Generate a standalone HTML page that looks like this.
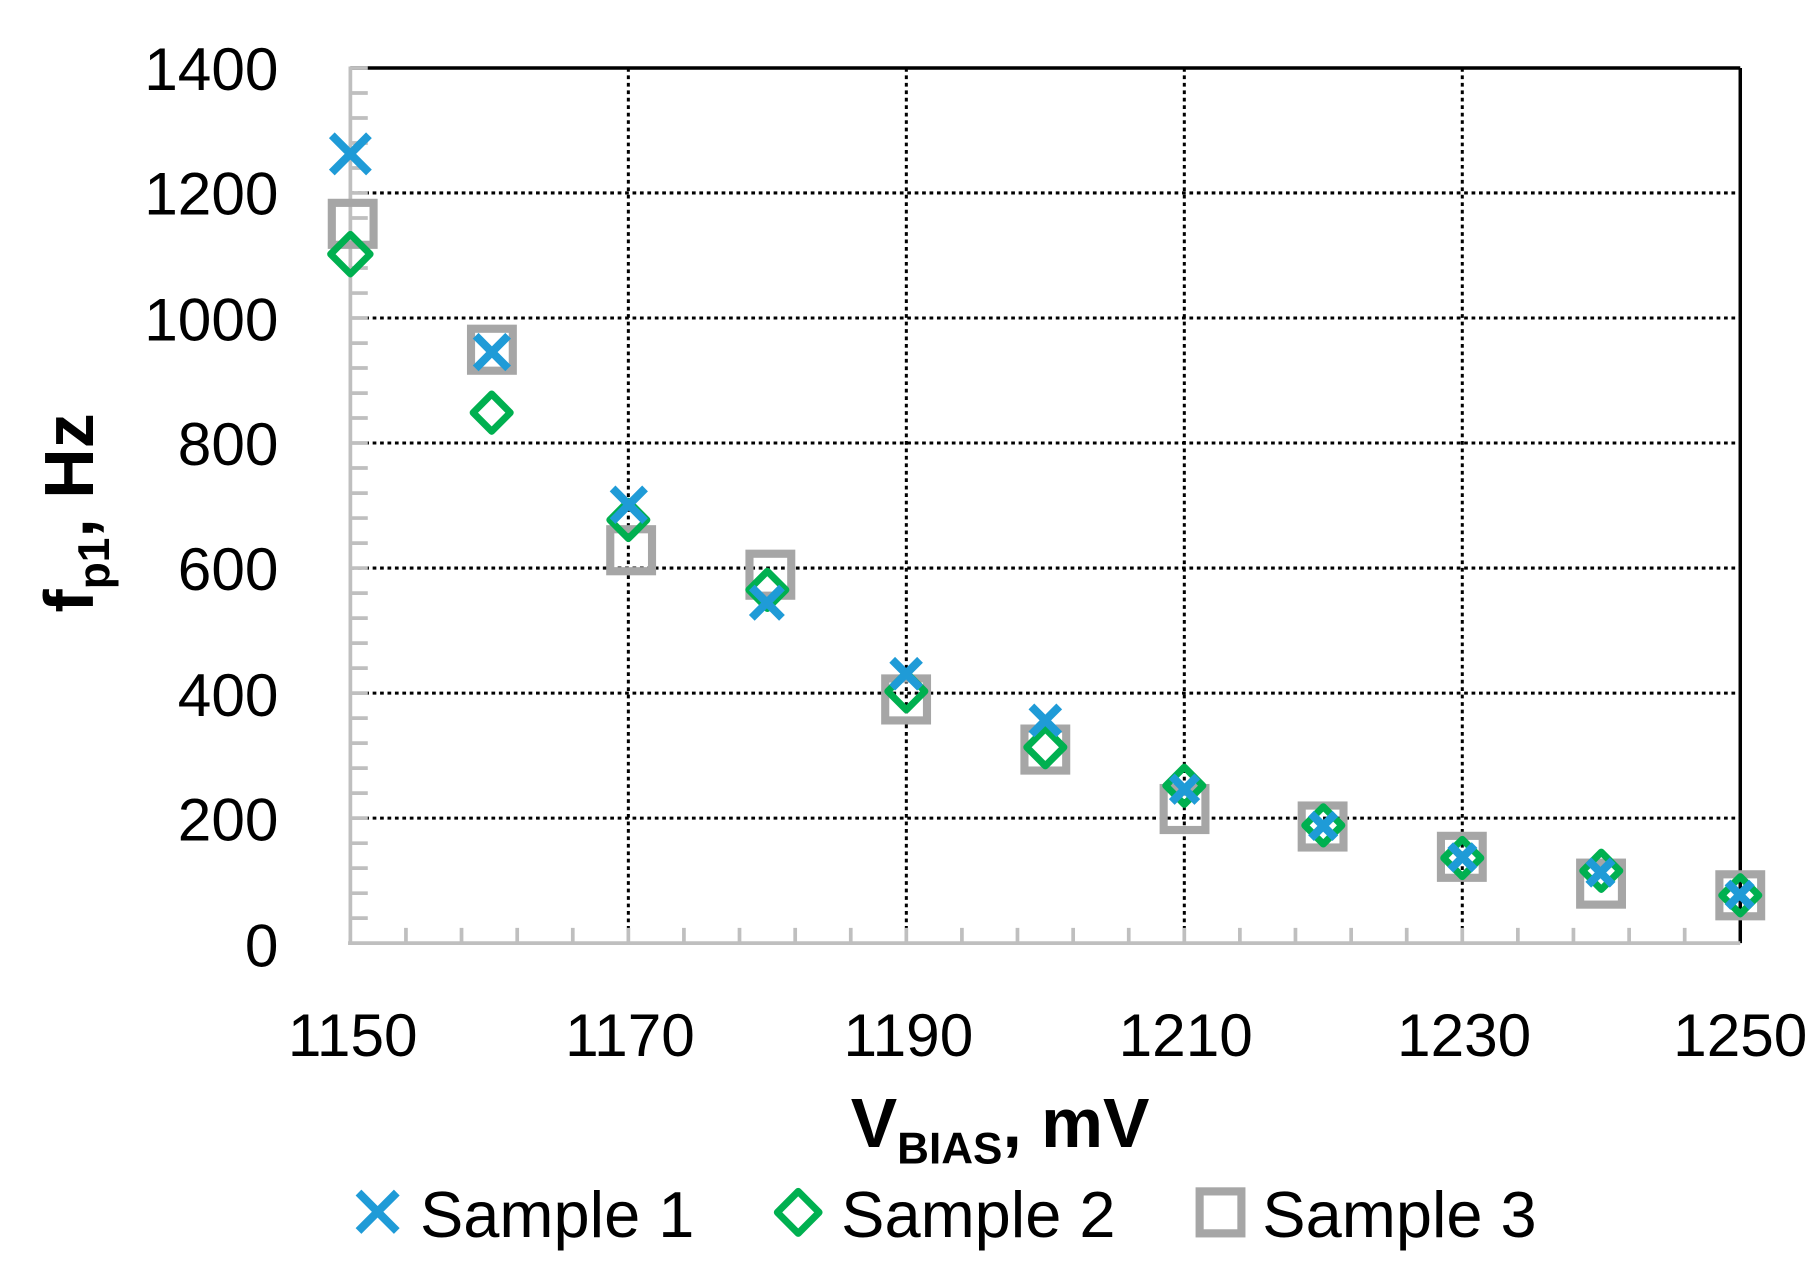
<!DOCTYPE html>
<html><head><style>html,body{margin:0;padding:0;background:#fff}svg{display:block}</style></head>
<body>
<svg width="1818" height="1266" viewBox="0 0 1567 1086" preserveAspectRatio="none" xmlns="http://www.w3.org/2000/svg" font-family="'Liberation Sans', sans-serif">
<rect width="1567" height="1086" fill="#fff"/>
<g stroke="#000" stroke-width="2.6" stroke-dasharray="3.2 3.2">
<line x1="302" y1="165.5" x2="1500" y2="165.5"/>
<line x1="302" y1="272.8" x2="1500" y2="272.8"/>
<line x1="302" y1="380" x2="1500" y2="380"/>
<line x1="302" y1="487.3" x2="1500" y2="487.3"/>
<line x1="302" y1="594.6" x2="1500" y2="594.6"/>
<line x1="302" y1="701.8" x2="1500" y2="701.8"/>
<line x1="541.6" y1="58.3" x2="541.6" y2="809"/>
<line x1="781.2" y1="58.3" x2="781.2" y2="809"/>
<line x1="1020.8" y1="58.3" x2="1020.8" y2="809"/>
<line x1="1260.4" y1="58.3" x2="1260.4" y2="809"/>
</g>
<line x1="302" y1="58.3" x2="1500" y2="58.3" stroke="#000" stroke-width="3"/>
<line x1="1500" y1="58.3" x2="1500" y2="809" stroke="#000" stroke-width="3"/>
<g stroke="#bfbfbf" stroke-width="3.2">
<line x1="302" y1="57" x2="302" y2="810.5"/>
<line x1="300" y1="809" x2="1500" y2="809"/>
</g>
<g stroke="#bfbfbf" stroke-width="3.2">
<path d="M302 58.3h15M302 79.8h15M302 101.2h15M302 122.7h15M302 144.1h15M302 165.5h15M302 187h15M302 208.5h15M302 229.9h15M302 251.4h15M302 272.8h15M302 294.3h15M302 315.7h15M302 337.2h15M302 358.6h15M302 380h15M302 401.5h15M302 423h15M302 444.4h15M302 465.9h15M302 487.3h15M302 508.8h15M302 530.2h15M302 551.7h15M302 573.1h15M302 594.6h15M302 616h15M302 637.5h15M302 658.9h15M302 680.4h15M302 701.8h15M302 723.3h15M302 744.7h15M302 766.2h15M302 787.6h15"/>
<path d="M349.9 809v-13M397.8 809v-13M445.8 809v-13M493.7 809v-13M541.6 809v-13M589.5 809v-13M637.4 809v-13M685.4 809v-13M733.3 809v-13M781.2 809v-13M829.1 809v-13M877 809v-13M925 809v-13M972.9 809v-13M1020.8 809v-13M1068.7 809v-13M1116.6 809v-13M1164.6 809v-13M1212.5 809v-13M1260.4 809v-13M1308.3 809v-13M1356.2 809v-13M1404.2 809v-13M1452.1 809v-13"/>
</g>
<g font-size="52" fill="#000" text-anchor="end">
<text x="240" y="77">1400</text><text x="240" y="184">1200</text><text x="240" y="292">1000</text><text x="240" y="399">800</text><text x="240" y="506">600</text><text x="240" y="614">400</text><text x="240" y="721">200</text><text x="240" y="829">0</text>
</g>
<g font-size="52" fill="#000" text-anchor="middle">
<text x="304" y="906">1150</text><text x="543" y="906">1170</text><text x="783" y="906">1190</text><text x="1022" y="906">1210</text><text x="1262" y="906">1230</text><text x="1500" y="906">1250</text>
</g>
<text x="862" y="984" text-anchor="middle" font-size="60" font-weight="bold">V<tspan font-size="38" dy="14">BIAS</tspan><tspan dy="-14">, mV</tspan></text>
<text transform="translate(80,440) rotate(-90)" text-anchor="middle" font-size="60" font-weight="bold">f<tspan font-size="38" dy="14">p1</tspan><tspan dy="-14">, Hz</tspan></text>
<g fill="none" stroke="#a6a6a6" stroke-width="7">
<rect x="286" y="174" width="36" height="36"/>
<rect x="406" y="282" width="36" height="36"/>
<rect x="526" y="454" width="36" height="36"/>
<rect x="646" y="475" width="36" height="36"/>
<rect x="763" y="582" width="36" height="36"/>
<rect x="883" y="625" width="36" height="36"/>
<rect x="1003" y="676" width="36" height="36"/>
<rect x="1122" y="691" width="36" height="36"/>
<rect x="1242" y="717" width="36" height="36"/>
<rect x="1362" y="740" width="36" height="36"/>
<rect x="1482" y="750" width="36" height="36"/>
</g>
<g fill="none" stroke="#00b050" stroke-width="6" stroke-linejoin="round">
<path d="M302 201l17 17-17 17-17-17z"/>
<path d="M423.8 338l16 16-16 16-16-16z"/>
<path d="M541.6 430l16 16-16 16-16-16z"/>
<path d="M661.4 490l16 16-16 16-16-16z"/>
<path d="M781.2 577l16 16-16 16-16-16z"/>
<path d="M901 625l16 16-16 16-16-16z"/>
<path d="M1020.8 658l16 16-16 16-16-16z"/>
<path d="M1140.6 692l16 16-16 16-16-16z"/>
<path d="M1260.4 720l16 16-16 16-16-16z"/>
<path d="M1380.2 731l16 16-16 16-16-16z"/>
<path d="M1500 752l16 16-16 16-16-16z"/>
</g>
<g stroke="#1f9bd7" stroke-width="7">
<path d="M286 116l32 32M318 116l-32 32"/>
<path d="M410 288l28 28M438 288l-28 28"/>
<path d="M528 419l28 28M556 419l-28 28"/>
<path d="M648 504l26 26M674 504l-26 26"/>
<path d="M769 566l24 24M793 566l-24 24"/>
<path d="M889 606l24 24M913 606l-24 24"/>
<path d="M1010 666l22 22M1032 666l-22 22"/>
<path d="M1130 698l21 21M1151 698l-21 21"/>
<path d="M1250 725l21 21M1271 725l-21 21"/>
<path d="M1369 738l21 21M1390 738l-21 21"/>
<path d="M1489 757l21 21M1510 757l-21 21"/>
</g>
<path d="M309 1023l33 33M342 1023l-33 33" stroke="#1f9bd7" stroke-width="7"/>
<text x="362" y="1061" font-size="56">Sample 1</text>
<path d="M688 1022l18 18-18 18-18-18z" fill="none" stroke="#00b050" stroke-width="6" stroke-linejoin="round"/>
<text x="725" y="1061" font-size="56">Sample 2</text>
<rect x="1034" y="1022" width="36" height="36" fill="none" stroke="#a6a6a6" stroke-width="7"/>
<text x="1088" y="1061" font-size="56">Sample 3</text>
</svg>
</body></html>
